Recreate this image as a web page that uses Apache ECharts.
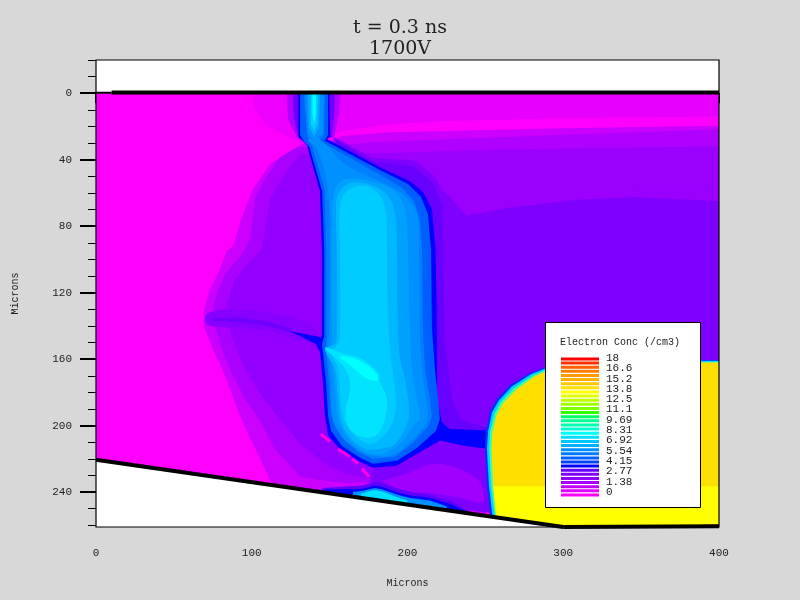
<!DOCTYPE html>
<html><head><meta charset="utf-8">
<style>html,body{margin:0;padding:0;background:#d8d8d8}#c{width:800px;height:600px}</style>
<script src="https://cdn.jsdelivr.net/npm/echarts@6/dist/echarts.min.js"></script>
</head><body><div id="c"></div>
<script>
// axis ticks (microns)
const xMajor=[0,100,200,300,400];
const xMinor=[0,25,50,75,100,125,150,175,200,225,250,275,300,325,350,375,400];
const yMajor=[0,40,80,120,160,200,240];
const yMinor=[-20,-10,0,10,20,30,40,50,60,70,80,90,100,110,120,130,140,150,160,170,180,190,200,210,220,230,240,250,260];
// legend
const legendTitle='Electron Conc (/cm3)';
const legendLabels=['18','16.6','15.2','13.8','12.5','11.1','9.69','8.31','6.92','5.54','4.15','2.77','1.38','0'];
const legendColors=['#ff0000','#ff3000','#ff6000','#ff8000','#ff9900','#ffb000','#ffc800','#ffe000','#ffff00','#e0ff00','#c0ff00','#a0ff00','#80ff00','#30ff00','#00ff60','#00ff90','#00ffb0','#00ffd0','#00ffff','#00e0ff','#00c8ff','#00b0ff','#0090ff','#0078ff','#0060ff','#0040ff','#0000ff','#6600ff','#7f00ff','#9000ff','#a800ff','#c000ff','#e000ff','#ff00ff'];
// device boundaries (microns)
const slopeEdge=[[0,220.5],[300,261]];
const floorEdge=[[300,261],[400,260.6]];
const topThin=[[0,-0.3],[10,-0.3]];
const topThick=[[10,-0.5],[400,-0.5]];
const faintDash=[[346,57.7],[397,57.7]];
// contour regions (x, depth in microns)
const domain=[[0,0],[400,0],[400,261.5],[300,261.5],[0,220.5]];
const leftTop=[[100,0],[102,9.6],[108.5,18.6],[116,22.8],[126.5,27.6],[132,30.7],[135,32],[135,0]];
const leftA=[[132,30.7],[126.5,33.7],[111.7,42.7],[100.8,57.7],[94.4,72.7],[88,92],[84,95],[78.3,108.8],[73.2,117.8],[69.3,131],[69.3,140.6],[75,153.9],[81,165.9],[86,178],[92.4,194],[99,208],[103.4,215.8],[110.4,230],[113,235.6],[250,253.5],[250,205],[150,100],[150,30]];
const leftB=[[129,32.5],[118,38.5],[108.5,51.7],[102,63.7],[98.9,87.7],[92.4,98.6],[82.8,108.8],[76.4,123.8],[74.5,134.6],[79.6,150.9],[87.3,168.9],[95.7,183.9],[106.6,198.9],[114.9,214],[127.8,227.2],[131,230.8],[147,233.2],[159.9,234.4],[177.2,234.4],[200,225],[150,100],[145,32]];
const leftC=[[131,36.7],[121.3,48.7],[111.7,63.7],[106.6,93.8],[98.9,101],[89.2,111.8],[82.8,129.8],[87.3,147.8],[95.7,165.9],[105.3,180.9],[118.1,195.9],[131,211],[147,223],[159.9,229],[177.2,232],[195,230.8],[210,215],[150,100],[145,36]];
const neckHaloA=[[122.6,0],[131,0],[131,28],[129,26.4],[123.3,15.6]];
const neckHaloB=[[126.5,0],[131,0],[131,28],[130,26],[127,15]];
const streakHalo=[[71,133],[85,130],[110,132],[140,140],[140,150],[110,143],[85,141],[71,139]];
const streak=[[74,135.6],[92.4,135],[109.8,137.2],[126.5,141.8],[124.5,143.6],[109.8,140],[92.4,137.8],[75,137]];
const streakBlue=[[123.9,143],[143.8,146.6],[144.5,149],[141,150.9],[131,146]];
const rightTop=[[150,0],[400,0],[400,14],[300,15],[220.8,16.8],[188.7,18.6],[156,23],[150,27]];
const rightB=[[400,19.5],[300,21],[220.8,22.8],[188.7,23.4],[158,25.8],[150,29],[220,100],[225,205],[255,205],[255,255],[300,261.5],[400,261.5]];
const rightC=[[400,21.7],[300,25],[230,27.5],[178,29.5],[160,31],[152,28],[160,100],[222,205],[400,205]];
const rightD=[[400,32],[320,33],[250,34],[203.6,35.5],[178,36],[160,36],[200,100],[222,205],[400,205]];
const rightE=[[400,65],[347,62.5],[311,64],[268,68.5],[238,73.5],[227,62],[214,52],[200,52],[200,205],[400,205]];
const rightHaloA=[[150,0],[157,0],[156,12],[153,26],[150,27]];
const rightHaloB=[[150,0],[153.4,0],[153,12],[151.5,26],[150,27]];
const haloOuter=[[152,26],[178,39],[205,40.5],[218,50.5],[226,66],[226,93.8],[222,205],[200,100]];
const halo=[[152,27],[178,41],[203.6,43.9],[216,53.5],[222.8,68],[222.8,93.8],[224,148],[226.6,169],[228.6,184],[233.7,196],[253,202],[253,204],[222,204],[200,100]];
const underA=[[180,222],[220,205],[251,215],[253,252.4],[240,251],[227,247],[201.6,242],[185.5,236.8],[175.9,233.8]];
const underB=[[184.3,233.8],[199.7,229],[218.9,223],[244.6,232],[248.5,245.8],[235.6,244],[218.9,241],[199.7,239.2]];
const sliver0=[[145,237.5],[171,236],[179,233.8],[185,234.8],[194,238],[203,240.2],[215,241.8],[228,245.4],[242,252.8],[145,240]];
const sliver1=[[147,238.5],[171.4,238],[179,236],[184,237],[193,240],[201.6,242],[214.4,243.4],[227,247],[238,251.5],[238,252.5],[147,240.5]];
const sliver2=[[165,240],[172,239],[179,237.5],[184,238.5],[193,241.5],[201.6,243.5],[214.4,245],[225,248.5],[225,250.5],[165,243]];
const sliver3=[[170,241],[175,239.5],[179,238.8],[185,240],[193,243],[200,245],[200,247.5],[170,244]];
const colBlue=[[130,0],[130,26.4],[133.5,29.4],[135.5,31.3],[143.8,58.9],[145,93.8],[145,146],[141,151],[143.8,155.7],[145.7,173.7],[147,194],[149,206],[156.6,214],[169.5,221.8],[177.8,225.4],[193,224.2],[206,217],[221,209],[235.6,212],[251,214],[253,203],[227,202],[222,198],[219,184],[219,142],[218,94],[215.7,69.7],[210,59.5],[201.6,52.9],[182.3,44.5],[148.3,27.6],[150.2,26.4],[150,0]];
const colB=[[131,0],[149,0],[149,25],[147,28.6],[182.3,46.2],[200.3,54.6],[208.7,62.5],[213.1,72.7],[215.1,93.8],[215.7,141.8],[217.6,165.9],[219.6,183.9],[220.8,195.9],[218.3,203.1],[206.1,213.4],[193.2,221.2],[177.8,223],[169.5,219.4],[157.9,212.2],[150.9,203.1],[149,194],[147.7,173.7],[145.7,155.7],[145.1,150.9],[146.5,146],[146.5,93.8],[145.2,58.9],[137,32.5],[133,28.5],[131,25]];
const colC=[[133.5,0],[147,0],[146.4,24.6],[143.8,28.8],[182.3,49],[196.5,57],[204.2,64.9],[208,76],[209.3,93.8],[209.9,141.8],[211.2,165.9],[214.4,183.9],[215.7,194.7],[213.1,200.7],[202.9,210.9],[192,218.8],[177.8,220],[169.5,216.4],[160.5,209.7],[153.4,200.7],[150.9,194],[149.6,173.7],[147.7,155],[148,146],[148,93.8],[146.7,57.7],[139,32.5],[135.5,25]];
const colC2=[[136.1,28],[143.8,28],[159.9,42.7],[185.5,54.5],[198.4,61.9],[206.1,72.7],[207.4,93.8],[208,141.8],[209.3,165.9],[211.9,183.9],[213.1,194.7],[210.6,200.7],[200.3,210.9],[191.3,217.6],[177.8,218.2],[168.2,214.6],[157.9,206.7],[152.2,194.7],[150.9,173.7],[149,154],[149.6,146],[150.2,93.8],[149,57.7],[142,33.7]];
const colD=[[151.5,93.8],[152,70],[153.4,57.7],[159.9,51.7],[179.1,53.5],[192,58.9],[198.4,69.7],[200.3,93.8],[201.6,141.8],[202.9,165.9],[206,183.9],[208,195.9],[204.8,198.9],[195.2,210.9],[185.5,216.4],[175.9,217],[166.3,212.2],[159.9,204.9],[155.4,195.9],[153.4,177.9],[150.9,153.9],[151.5,147.8]];
const colE=[[154.7,93.8],[154.1,72.7],[155.4,60.7],[163,54.1],[177.2,55.3],[187.5,61.9],[192,72.7],[193.2,93.8],[193.9,141.8],[195.2,159.9],[198.4,171.9],[201,190],[200,198],[192,210.9],[182.3,214],[173.3,214],[164.4,208.5],[157.9,198.9],[155.4,183.9],[153.4,165.9],[147,153.9],[153.4,150.9],[154.7,146]];
const colF=[[156.6,93.8],[156.6,67.9],[160.5,59.5],[167.6,55.9],[175.9,56.5],[183,62.5],[186.2,72.7],[186.8,93.8],[187.5,135.8],[188.7,153.9],[190.7,168.9],[192.6,183.9],[191.3,195.9],[185.5,205.5],[177.2,210.9],[169.5,208.5],[162.4,201.9],[157.9,192.9],[156.6,177.9],[155.4,165.9],[150.9,155],[154,152.7],[156.6,146]];
const colG=[[147,153.3],[159.9,156.9],[170.8,159.9],[181,168.3],[182.3,173.7],[186.8,183.9],[185.5,195.9],[181,204.9],[174.6,207.3],[166.3,204.9],[161.1,198.9],[160.5,189.9],[163,179.1],[161.8,168.9],[155.4,161]];
const colH=[[156.6,158.7],[163,158.7],[170.8,161.7],[179.1,167.7],[181,172.5],[175.9,172.5],[169.5,168.9],[163,163.5]];
const neck1=[[134.8,0],[146,0],[145.5,24],[140,30],[136,24]];
const neck2=[[136.1,0],[143.8,0],[143.2,20.4],[140,26],[136.7,20.4]];
const neck3=[[138,0],[142.5,0],[141.9,18.6],[140,22.8],[138,18.6]];
const neck4=[[139,0],[141.2,0],[141.2,12],[140,18.6],[139,12]];
const pink1=[[143.4,205.6],[145,204.4],[151,209],[149.4,210.2]];
const pink2=[[154.6,214.6],[156.2,213.4],[163.8,218.2],[162.2,219.4]];
const pink3=[[163.6,220.6],[165.2,219.4],[169,222.4],[167.4,223.6]];
const pink4=[[170,226.6],[171.6,225.4],[176,230.2],[174.6,231.4]];
const yel0=[[400,160.5],[310.7,160.8],[288,165],[278.6,168.3],[265.8,175.5],[257.4,184],[253,191],[250.4,203],[249.8,214],[251,236],[253,254],[300,261.5],[400,261.5]];
const yel1=[[400,161],[311,161.3],[288.5,165.7],[279.5,169],[267,176.5],[258.5,185],[254.3,192],[251.7,203.5],[251,214],[252.3,236],[254.5,254.2],[300,261.5],[400,261.5]];
const yel2=[[400,161.5],[311,161.8],[289,166.4],[280.5,169.8],[268.2,177.5],[259.8,186],[255.7,193],[253,204],[252.5,214],[253.7,236],[256,254.5],[300,261.5],[400,261.5]];
const yel3=[[400,162],[311,162.3],[289.5,167],[281.5,170.5],[269.5,178.5],[261,187],[257,194],[254.5,204.5],[254,214],[255,236],[257,254.6],[300,261.5],[400,261.5]];
const yel4=[[255,236.5],[400,236.5],[400,261.5],[300,261.5],[257,254.6]];
const hotSpot=[[390,259.5],[400,259.5],[400,261.5],[390,261.5]];

const S=0.35; // rounded contours
const layers=[
 [domain,'#ff00ff'],[leftTop,'#ee00ff'],[leftA,'#cc00ff'],[leftB,'#aa00ff'],[leftC,'#9300ff'],[neckHaloA,'#b000ff'],[neckHaloB,'#7000ff'],
 [streakHalo,'#8800ff',S],[streak,'#7000ff'],
 [rightTop,'#e800ff'],[rightB,'#cc00ff'],[rightC,'#b000ff'],[rightD,'#9b00ff'],[rightE,'#7f00ff'],[rightHaloA,'#b000ff'],[rightHaloB,'#7000ff'],[haloOuter,'#7f00ff'],[halo,'#6800ff'],
 [underA,'#8000ff'],[underB,'#a000ff',S],[sliver0,'#6000ff'],[sliver1,'#0000ff'],[sliver2,'#0090ff'],[sliver3,'#00e0ff'],
 [colBlue,'#0000ff'],[colB,'#0060ff'],[colC,'#0080ff'],[colC2,'#0090ff',S],[colD,'#00a0ff',S],[colE,'#00b8ff',S],[colF,'#00ccff',S],[colG,'#00e4ff',S],[colH,'#00ffff',S],
 [neck1,'#0090ff'],[neck2,'#00b0ff'],[neck3,'#00d0ff'],[neck4,'#00ffff'],[streakBlue,'#0000ff'],[pink1,'#ff00e8'],[pink2,'#ff00e8'],[pink3,'#ff00e8'],[pink4,'#ff00e8'],
 [yel0,'#0030ff'],[yel1,'#00d0ff'],[yel2,'#40ffa0'],[yel3,'#ffdf00'],[yel4,'#ffff00'],[hotSpot,'#ff8000']
];

const mono='"Liberation Mono",monospace';
const txt='#222';
const G={l:96,r:719,t:60,b:527};
const chart=echarts.init(document.getElementById('c'),null,{renderer:'canvas'});
const legendEls=[{type:'rect',z:60,shape:{x:545.5,y:322.5,width:155,height:185},style:{fill:'#fff',stroke:'#000',lineWidth:1}},
 {type:'text',z:61,x:560,y:342,style:{text:legendTitle,font:'10px '+mono,fill:txt,textVerticalAlign:'middle'}}];
legendColors.forEach((c,i)=>legendEls.push({type:'rect',z:61,shape:{x:561,y:357.5+i*4.12,width:38,height:3},style:{fill:c}}));
legendLabels.forEach((t,i)=>legendEls.push({type:'text',z:61,x:606,y:358+i*10.3,style:{text:t,font:'11px '+mono,fill:txt,textVerticalAlign:'middle'}}));
const edge=(d,w)=>({type:'line',data:d,symbol:'none',z:5,lineStyle:{color:'#000',width:w,cap:'butt'},silent:true});
chart.setOption({
 animation:false,backgroundColor:'#d8d8d8',
 title:{text:'t = 0.3 ns\n1700V',left:395,top:13,textAlign:'center',textStyle:{fontFamily:'"DejaVu Serif"',fontSize:19,fontWeight:'normal',color:'#222',lineHeight:21}},
 grid:{left:G.l,top:G.t,width:G.r-G.l,height:G.b-G.t,show:true,backgroundColor:'#fff',borderWidth:0},
 xAxis:[
  {type:'value',min:0,max:400,position:'bottom',splitLine:{show:false},axisLine:{show:false},
   axisTick:{customValues:xMajor,length:10,lineStyle:{color:'#000',width:2}},
   axisLabel:{customValues:xMajor,margin:21,color:txt,fontFamily:mono,fontSize:11},
   name:'Microns',nameLocation:'middle',nameGap:51,nameTextStyle:{color:txt,fontFamily:mono,fontSize:10}},
  {type:'value',min:0,max:400,position:'bottom',splitLine:{show:false},axisLine:{show:false},
   axisTick:{customValues:xMinor,length:6,lineStyle:{color:'#000',width:1}},axisLabel:{show:false}}
 ],
 yAxis:[
  {type:'value',min:-20,max:261,inverse:true,position:'left',splitLine:{show:false},axisLine:{show:false},
   axisTick:{customValues:yMajor,length:16,lineStyle:{color:'#000',width:2}},
   axisLabel:{customValues:yMajor,margin:24,color:txt,fontFamily:mono,fontSize:11,padding:[0,0,5,0]},
   name:'Microns',nameLocation:'middle',nameGap:76,nameRotate:90,nameTextStyle:{color:txt,fontFamily:mono,fontSize:10}},
  {type:'value',min:-20,max:261,inverse:true,position:'left',splitLine:{show:false},axisLine:{show:false},
   axisTick:{customValues:yMinor,length:8,lineStyle:{color:'#000',width:1}},axisLabel:{show:false}}
 ],
 graphic:{elements:[{type:'rect',z:50,shape:{x:G.l,y:G.t,width:G.r-G.l,height:G.b-G.t},style:{fill:'none',stroke:'#000',lineWidth:1.2}},...legendEls]},
 series:[
  {type:'custom',coordinateSystem:'cartesian2d',clip:true,silent:true,z:2,
   data:layers.map((_,i)=>[i]),
   renderItem:(p,api)=>{const l=layers[api.value(0)];
     return {type:'polygon',shape:{points:l[0].map(q=>api.coord(q)),smooth:l[2]||0},style:{fill:l[1]}};}},
  edge(slopeEdge,4),edge(floorEdge,4),edge(topThin,2),edge(topThick,4),
  {type:'line',data:faintDash,symbol:'none',z:3,silent:true,lineStyle:{color:'#8a00ff',width:1,type:[3,2]}}
 ]
});
</script></body></html>
